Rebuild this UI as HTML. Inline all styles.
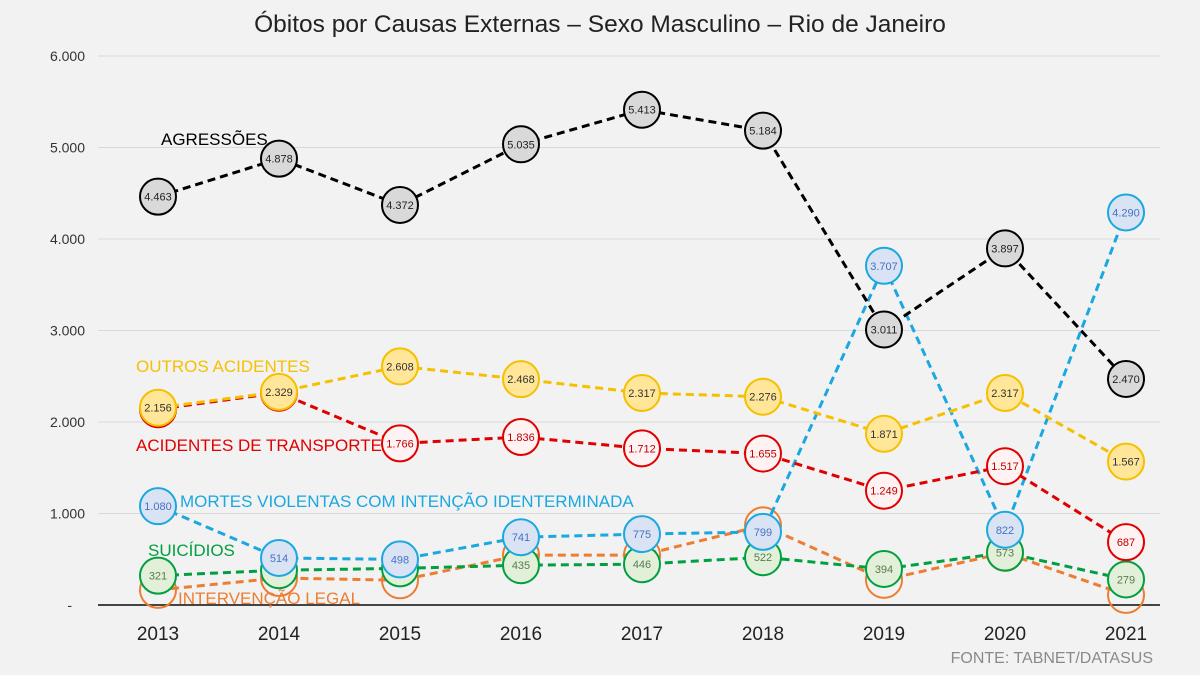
<!DOCTYPE html>
<html><head><meta charset="utf-8"><style>
body{margin:0;background:#f2f2f2;}
svg{display:block;font-family:"Liberation Sans",sans-serif;}
</style></head><body>
<svg id="chart" width="1200" height="675">
<rect width="1200" height="675" fill="#f2f2f2"/>
<text x="600" y="32" text-anchor="middle" font-size="24.5" fill="#222">Óbitos por Causas Externas – Sexo Masculino – Rio de Janeiro</text>
<g id="grid"></g><g id="series"></g>
<text x="1153" y="663" text-anchor="end" font-size="16" fill="#8a8a8a">FONTE: TABNET/DATASUS</text>
</svg>
<script>
const years=["2013","2014","2015","2016","2017","2018","2019","2020","2021"];
const yTicks=[0,1000,2000,3000,4000,5000,6000];
const yTickLabels=["-","1.000","2.000","3.000","4.000","5.000","6.000"];
const intervencao=[165,295,270,545,545,870,275,570,110];
const suicidios=[321,380,400,435,446,522,394,573,279];
const mortesInd=[1080,514,498,741,775,799,3707,822,4290];
const transporte=[2140,2320,1766,1836,1712,1655,1249,1517,687];
const outros=[2156,2329,2608,2468,2317,2276,1871,2317,1567];
const agressoes=[4463,4878,4372,5035,5413,5184,3011,3897,2470];
const NS="http://www.w3.org/2000/svg";
const xS=i=>158+i*121;
const yS=v=>605-v*0.0915;
function mk(tag,attrs,parent){const e=document.createElementNS(NS,tag);for(const k in attrs)e.setAttribute(k,attrs[k]);parent.appendChild(e);return e;}
const grid=document.getElementById('grid'),ser=document.getElementById('series');
yTicks.forEach((t,i)=>{
 const l=mk('line',{x1:98,x2:1160,y1:yS(t),y2:yS(t),stroke:t===0?'#444':'#d9d9d9','stroke-width':t===0?2:1},grid);
 
 
 const tx=mk('text',{x:t===0?72:85,y:yS(t)+5,'text-anchor':'end','font-size':14,fill:'#333'},grid);
 tx.textContent=yTickLabels[i];
 
 
});
years.forEach((y,i)=>{
 const tx=mk('text',{x:xS(i),y:640,'text-anchor':'middle','font-size':19,fill:'#222'},grid);
 tx.textContent=y;
 
 
});
function fmt(v){return v>=1000?Math.floor(v/1000)+'.'+String(v%1000).padStart(3,'0'):String(v);}
function series(name,vals,color,fill,txtColor,showLabels,label,lx,ly){
 const g=mk('g',{},ser);
 
 
 const p=mk('polyline',{points:vals.map((v,i)=>xS(i)+','+yS(v)).join(' '),fill:'none',stroke:color,'stroke-width':3,'stroke-dasharray':'8 5'},g);
 
 
 vals.forEach((v,i)=>{
  const c=mk('circle',{cx:xS(i),cy:yS(v),r:18,fill:fill,stroke:color,'stroke-width':2},g);
  
  
  if(showLabels){const t=mk('text',{x:xS(i),y:yS(v)+4,'text-anchor':'middle','font-size':11,fill:txtColor},g);t.textContent=fmt(v);
   
   }
 });
 const lt=mk('text',{x:lx,y:ly,'font-size':17,fill:color},g);lt.textContent=label;
 
 
}
series('intervencao-legal',intervencao,'#ed7d31','none','#ed7d31',false,'INTERVENÇÃO LEGAL',178,604);
series('suicidios',suicidios,'#00a040','#e2f0d9','#5a7a50',true,'SUICÍDIOS',148,556);
series('mortes-indeterminadas',mortesInd,'#1aa8e0','#dae3f3','#4472c4',true,'MORTES VIOLENTAS COM INTENÇÃO IDENTERMINADA',180,507);
series('acidentes-transporte',transporte,'#e00000','#fff2f2','#c00000',true,'ACIDENTES DE TRANSPORTE',136,451);
series('outros-acidentes',outros,'#f5c000','#ffe699','#333',true,'OUTROS ACIDENTES',136,372);
series('agressoes',agressoes,'#000','#d9d9d9','#222',true,'AGRESSÕES',161,145);
</script>
</body></html>
